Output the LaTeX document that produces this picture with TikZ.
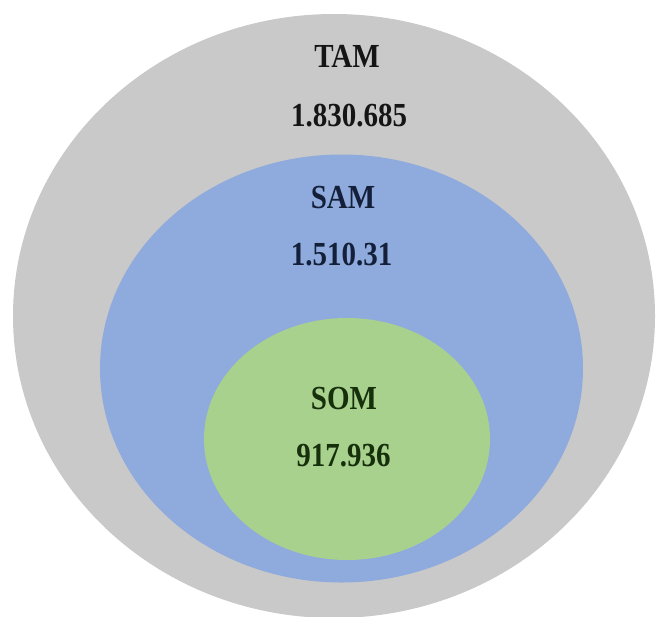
\documentclass[tikz,border=0pt]{standalone}
\usepackage{fontspec}
\setmainfont{Liberation Serif}
\usetikzlibrary{shapes.geometric}
\definecolor{tamfill}{HTML}{C9C9C9}
\definecolor{samfill}{HTML}{8FAADC}
\definecolor{somfill}{HTML}{A9D18E}
\definecolor{tamtext}{HTML}{151515}
\definecolor{samtext}{HTML}{14203A}
\definecolor{somtext}{HTML}{16300C}
% labels are set slightly taller than wide
\newcommand\tallbold[1]{\scalebox{1}[1.16]{#1}}
\begin{document}
\begin{tikzpicture}[x=1pt,y=-1pt,
  market/.style={ellipse, draw=none, inner sep=0pt},
  label/.style={font=\fontsize{29}{34}\selectfont\bfseries, inner sep=0pt}]
\useasboundingbox (0,0) rectangle (658,616);
\fill[white] (0,0) rectangle (658,616);
% nested market ellipses
\node[market, fill=tamfill, minimum width=642pt, minimum height=604pt] (tam) at (334,316) {};
\node[market, fill=samfill, minimum width=483pt, minimum height=428pt] (sam) at (341.5,368.5) {};
\node[market, fill=somfill, minimum width=286pt, minimum height=242pt] (som) at (347,439) {};
% labels and values
\node[label, text=tamtext] (tamname) at (347,56.5) {\tallbold{TAM}};
\node[label, text=tamtext] (tamval) at (349,116) {\tallbold{1.830.685}};
\node[label, text=samtext] (samname) at (343,197.5) {\tallbold{SAM}};
\node[label, text=samtext] (samval) at (341.5,254.5) {\tallbold{1.510.31}};
\node[label, text=somtext] (somname) at (344,399) {\tallbold{SOM}};
\node[label, text=somtext] (somval) at (343.5,456) {\tallbold{917.936}};
\end{tikzpicture}
\end{document}
